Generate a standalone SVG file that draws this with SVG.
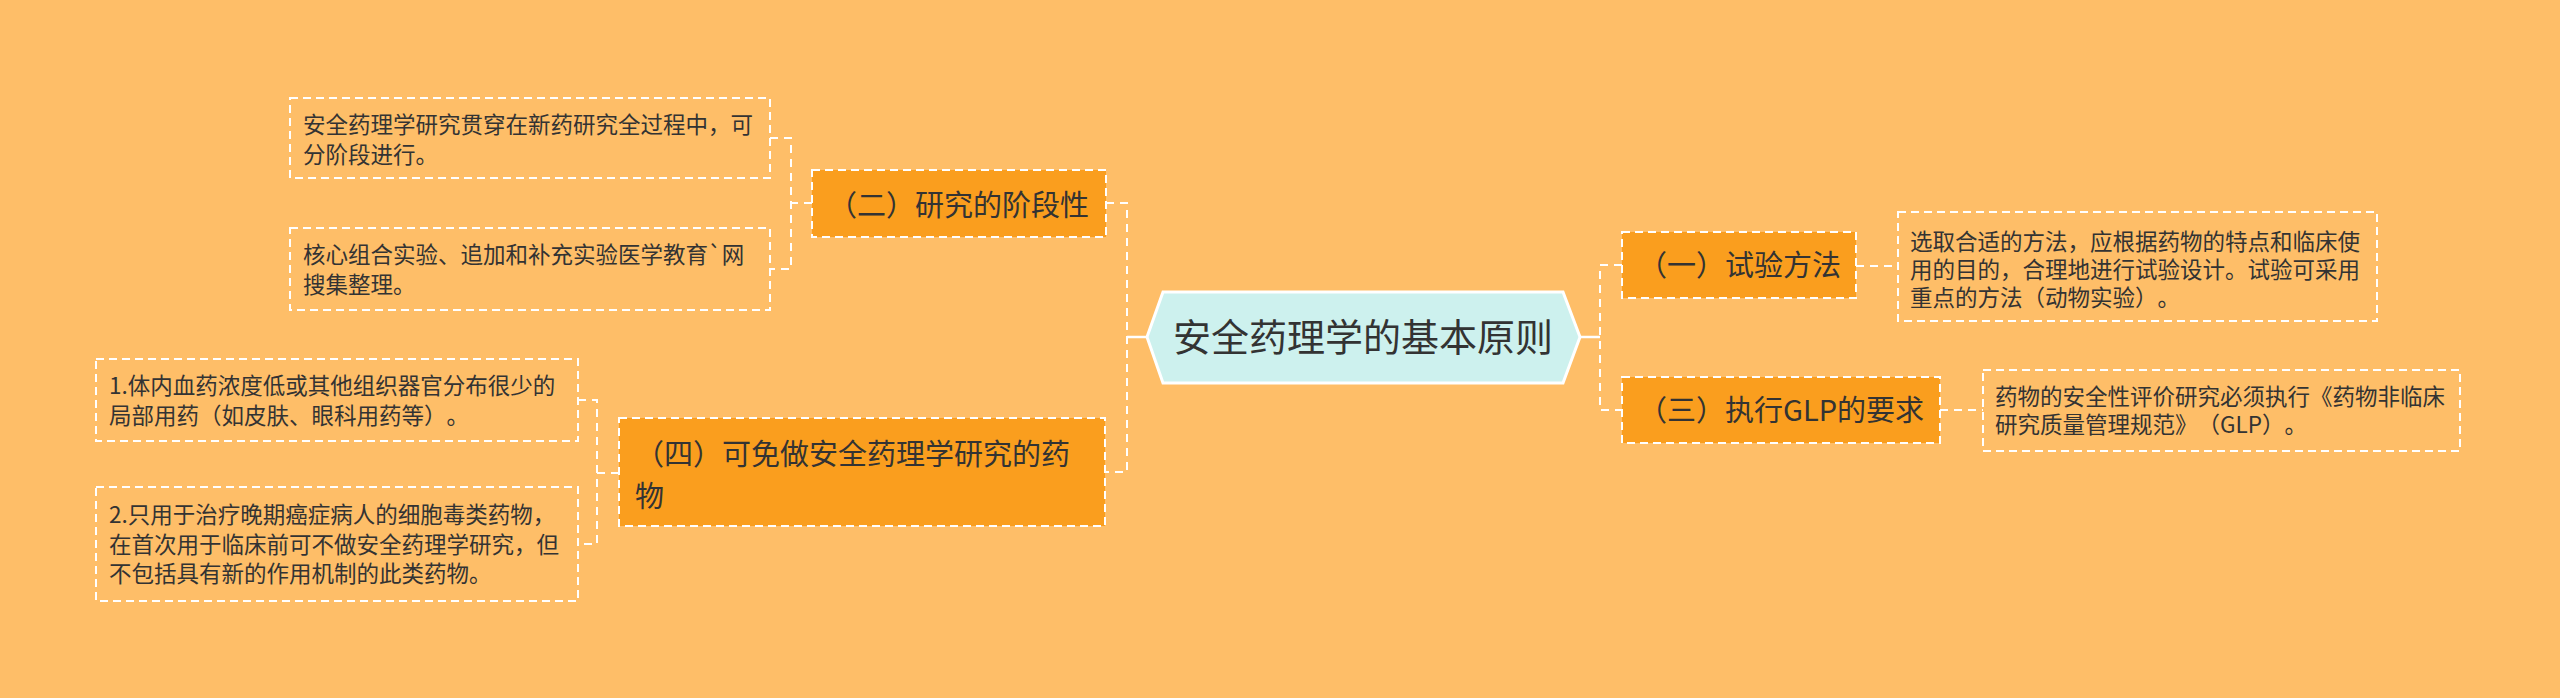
<svg xmlns="http://www.w3.org/2000/svg" width="2560" height="698" viewBox="0 0 2560 698">
<style>
.bg{fill:#FEBE68}
.main{fill:#FA9E1E;stroke:#FFFFFF;stroke-width:2;stroke-dasharray:8 5}
.leaf{fill:none;stroke:#FFFFFF;stroke-width:2;stroke-dasharray:8 5}
.conn{fill:none;stroke:#FFFFFF;stroke-width:2;stroke-dasharray:8 6}
.stub{fill:none;stroke:#FFFFFF;stroke-width:2.5}
.center{fill:#CDF1EE;stroke:#FFFFFF;stroke-width:3}
text{font-family:"Noto Sans CJK SC","Noto Sans",sans-serif;fill:#333333;text-spacing-trim:space-all}
.tc{font-size:38px}
.tm{font-size:29px}
.tl{font-size:22.5px}
</style>
<rect class="bg" x="0" y="0" width="2560" height="698"/>

<g id="connectors">
  <path class="stub" d="M1147,337 H1127"/>
  <path class="conn" d="M1106,203 H1127 V472 H1105"/>
  <path class="stub" d="M1580,337 H1600"/>
  <path class="conn" d="M1622,265 H1600 V410 H1622"/>
  <path class="conn" d="M812,203 H791 M770,138 H791 V269 H770"/>
  <path class="conn" d="M619,473 H597 M578,400 H597 V544 H578"/>
  <path class="conn" d="M1856,266 H1898"/>
  <path class="conn" d="M1940,410 H1983"/>
</g>

<g id="root">
  <polygon class="center" points="1147,337 1163,292 1563,292 1580,337 1563,383 1163,383"/>
  <text class="tc" x="1363" y="351" text-anchor="middle">安全药理学的基本原则</text>
</g>

<g id="n2">
  <rect class="main" x="812" y="170" width="294" height="67"/>
  <text class="tm" x="828" y="216">（二）研究的阶段性</text>
</g>

<g id="n4">
  <rect class="main" x="619" y="418" width="486" height="108"/>
  <text class="tm" x="635" y="465">（四）可免做安全药理学研究的药<tspan x="635" dy="42">物</tspan></text>
</g>

<g id="n1">
  <rect class="main" x="1622" y="232" width="234" height="66"/>
  <text class="tm" x="1638" y="276">（一）试验方法</text>
</g>

<g id="n3">
  <rect class="main" x="1622" y="377" width="318" height="66"/>
  <text class="tm" x="1638" y="421">（三）执行GLP的要求</text>
</g>

<g id="leaf2a">
  <rect class="leaf" x="290" y="98" width="480" height="80"/>
  <text class="tl" x="303" y="133">安全药理学研究贯穿在新药研究全过程中，可<tspan x="303" dy="30">分阶段进行。</tspan></text>
</g>

<g id="leaf2b">
  <rect class="leaf" x="290" y="228" width="480" height="82"/>
  <text class="tl" x="303" y="263">核心组合实验、追加和补充实验医学教育`网<tspan x="303" dy="30">搜集整理。</tspan></text>
</g>

<g id="leaf4a">
  <rect class="leaf" x="96" y="359" width="482" height="82"/>
  <text class="tl" x="109" y="394">1.体内血药浓度低或其他组织器官分布很少的<tspan x="109" dy="30">局部用药（如皮肤、眼科用药等）。</tspan></text>
</g>

<g id="leaf4b">
  <rect class="leaf" x="96" y="487" width="482" height="114"/>
  <text class="tl" x="109" y="523">2.只用于治疗晚期癌症病人的细胞毒类药物，<tspan x="109" dy="29.5">在首次用于临床前可不做安全药理学研究，但</tspan><tspan x="109" dy="29.5">不包括具有新的作用机制的此类药物。</tspan></text>
</g>

<g id="leaf1">
  <rect class="leaf" x="1898" y="212" width="479" height="109"/>
  <text class="tl" x="1910" y="250">选取合适的方法，应根据药物的特点和临床使<tspan x="1910" dy="28">用的目的，合理地进行试验设计。试验可采用</tspan><tspan x="1910" dy="28">重点的方法（动物实验）。</tspan></text>
</g>

<g id="leaf3">
  <rect class="leaf" x="1983" y="370" width="477" height="81"/>
  <text class="tl" x="1995" y="405">药物的安全性评价研究必须执行《药物非临床<tspan x="1995" dy="28">研究质量管理规范》（GLP）。</tspan></text>
</g>
</svg>
